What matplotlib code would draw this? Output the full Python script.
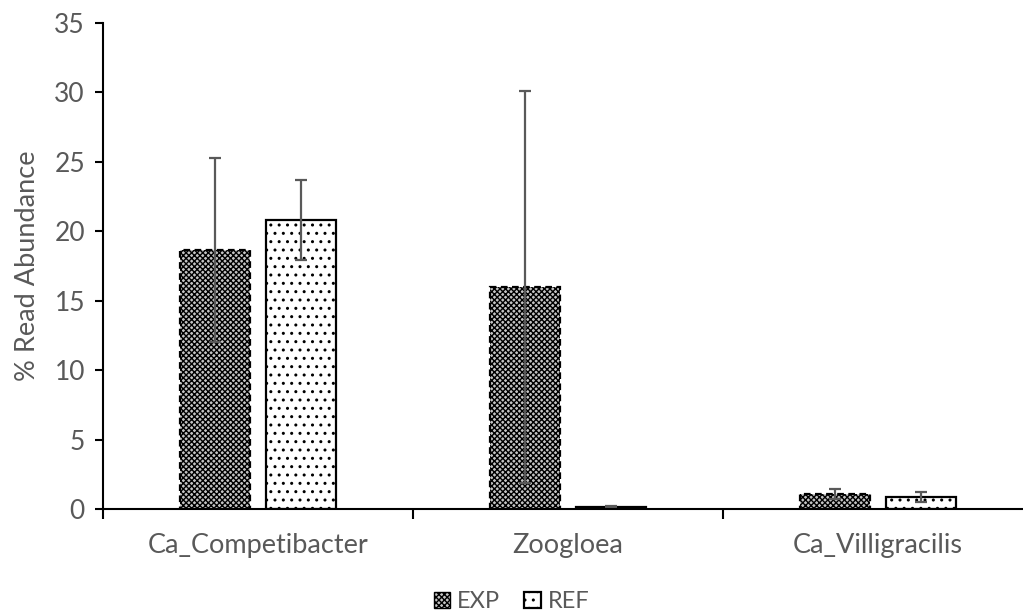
import numpy as np
import matplotlib.pyplot as plt
from matplotlib.patches import Patch

# =============================================================================

categories = ["Ca_Competibacter", "Zoogloea", "Ca_Villigracilis"]
exp_vals   = [18.65, 15.98, 1.08]
exp_err    = [6.6, 14.1, 0.36]
ref_vals   = [20.8, 0.15, 0.86]
ref_err    = [2.9, 0.1, 0.36]
yticks     = [0, 5, 10, 15, 20, 25, 30, 35]

GREY = "#595959"

# =============================================================================

plt.rcParams["font.family"] = ["Lato", "DejaVu Sans"]
plt.rcParams["hatch.linewidth"] = 1.0

fig = plt.figure(figsize=(10.23, 6.14), dpi=100)
ax  = fig.add_axes([0.1007, 0.171, 0.9091, 0.7915])

x   = np.arange(len(categories))
w   = 0.226
off = 0.14

ax.bar(x - off, exp_vals, w, facecolor="#c4c4c4", hatch="xxxxxx",
       edgecolor="black", linewidth=1.6, linestyle=(0, (3, 2)))
ax.bar(x + off, ref_vals, w, facecolor="white", hatch="..",
       edgecolor="black", linewidth=1.6)
ax.errorbar(x - off, exp_vals, yerr=exp_err, fmt="none", ecolor=GREY,
            elinewidth=1.6, capsize=4.5, capthick=1.6)
ax.errorbar(x + off, ref_vals, yerr=ref_err, fmt="none", ecolor=GREY,
            elinewidth=1.6, capsize=4.5, capthick=1.6)

ax.set_xlim(-0.5, 2.5)
ax.set_ylim(0, 35)
ax.set_yticks(yticks)
ax.set_xticks(x)
ax.set_xticklabels(categories)
ax.set_xticks([-0.5, 0.5, 1.5, 2.5], minor=True)

ax.tick_params(axis="x", which="major", length=0, pad=17, labelsize=19.5, labelcolor=GREY)
ax.tick_params(axis="x", which="minor", length=7, width=1.5, direction="out")
ax.tick_params(axis="y", length=6, width=1.5, direction="out", pad=7,
               labelsize=19, labelcolor=GREY)

for s in ("top", "right"):
    ax.spines[s].set_visible(False)
ax.spines["left"].set_linewidth(1.5)
ax.spines["bottom"].set_linewidth(1.5)

ax.set_ylabel("% Read Abundance", fontsize=19.5, color=GREY, labelpad=10)

handles = [Patch(facecolor="#c4c4c4", hatch="xxxxxx", edgecolor="black", linewidth=1.0),
           Patch(facecolor="white", hatch="..", edgecolor="black", linewidth=1.6)]
leg = fig.legend(handles, ["EXP", "REF"], loc="lower center", ncol=2, frameon=False,
                 bbox_to_anchor=(0.5, -0.032), handlelength=0.7, handleheight=0.7,
                 handletextpad=0.3, columnspacing=1.0, fontsize=17)
for t in leg.get_texts():
    t.set_color(GREY)

fig.savefig("out.png", dpi=100)
